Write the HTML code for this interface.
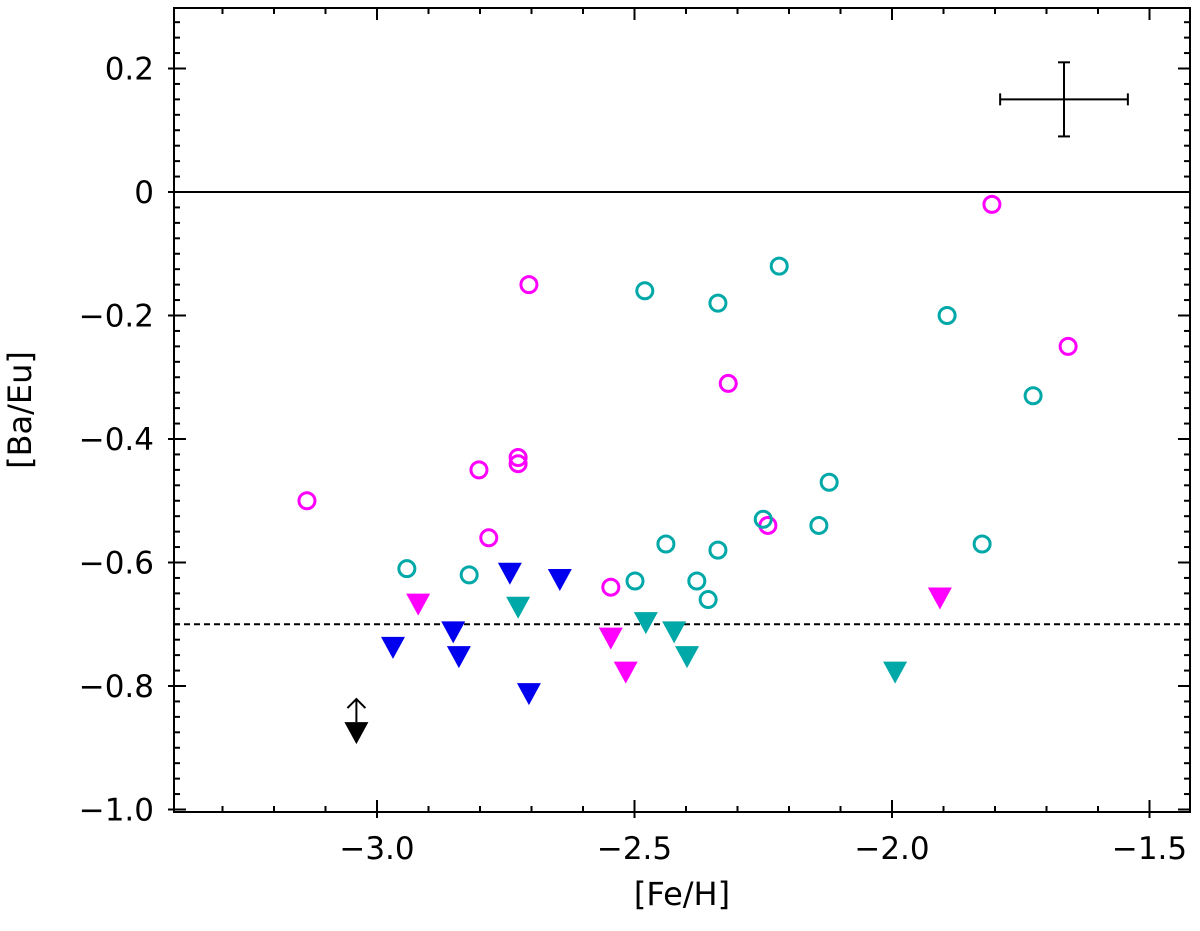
<!DOCTYPE html>
<html><head><meta charset="utf-8"><style>
html,body{margin:0;padding:0;background:#fff}
svg{display:block;font-family:"DejaVu Sans","Liberation Sans",sans-serif}
</style></head><body>
<svg id="chart" width="1200" height="931"></svg>
<script>
const magCircX=[-3.136,-2.705,-2.802,-2.726,-2.726,-2.783,-2.318,-2.546,-2.241,-1.806,-1.658];
const magCircY=[-0.50,-0.15,-0.45,-0.43,-0.44,-0.56,-0.31,-0.64,-0.54,-0.02,-0.25];
const tealCircX=[-2.942,-2.821,-2.48,-2.338,-2.219,-2.499,-2.439,-2.379,-2.357,-2.338,-2.25,-2.142,-2.122,-1.893,-1.825,-1.726];
const tealCircY=[-0.61,-0.62,-0.16,-0.18,-0.12,-0.63,-0.57,-0.63,-0.66,-0.58,-0.53,-0.54,-0.47,-0.20,-0.57,-0.33];
const blueTriX=[-2.969,-2.852,-2.841,-2.742,-2.705,-2.645];
const blueTriY=[-0.735,-0.71,-0.75,-0.615,-0.81,-0.625];
const magTriX=[-2.92,-2.546,-2.517,-1.907];
const magTriY=[-0.665,-0.72,-0.775,-0.655];
const tealTriX=[-2.726,-2.478,-2.423,-2.398,-1.994];
const tealTriY=[-0.67,-0.695,-0.71,-0.75,-0.775];
const blackTriX=[-3.04];
const blackTriY=[-0.873];
const xTicks=[-3.0,-2.5,-2.0,-1.5];
const xTickLabels=["−3.0","−2.5","−2.0","−1.5"];
const yTicks=[0.2,0,-0.2,-0.4,-0.6,-0.8,-1.0];
const yTickLabels=["0.2","0","−0.2","−0.4","−0.6","−0.8","−1.0"];
const errCenter=[-1.666,0.15];
const errHalf=[0.124,0.06];

const L=174,R=1190,T=8,B=812;
const X=v=>377+(v+3)*515;
const Y=v=>192-v*617.5;
const svg=document.getElementById('chart');
const NS='http://www.w3.org/2000/svg';
function mk(tag,attrs,name,parent){const e=document.createElementNS(NS,tag);for(const k in attrs)e.setAttribute(k,attrs[k]);


(parent||svg).appendChild(e);return e;}
mk('rect',{x:L,y:T,width:R-L,height:B-T,fill:'none',stroke:'#000','stroke-width':2},'plot-frame');
for(let v=-3.4;v<=-1.4;v+=0.1){const x=X(v);if(x<L||x>R)continue;
 const major=Math.abs(v*2-Math.round(v*2))<1e-6;
 mk('line',{x1:x,x2:x,y1:B-(major?12:6),y2:B+(major?6:0),stroke:'#000','stroke-width':2},'x-tick');
 mk('line',{x1:x,x2:x,y1:T,y2:T+(major?12:6),stroke:'#000','stroke-width':2},'x-tick-top');}
xTicks.forEach((v,i)=>{const t=mk('text',{x:X(v),y:B+47,'font-size':31,'text-anchor':'middle'},'x-tick-label');t.textContent=xTickLabels[i];});
for(let k=-40;k<=12;k++){const v=k*0.025;const y=Y(v);if(y<T||y>B)continue;const major=k%8==0;
 mk('line',{x1:L-(major?6:0),x2:L+(major?12:6),y1:y,y2:y,stroke:'#000','stroke-width':2},'y-tick');
 mk('line',{x1:R-(major?12:6),x2:R,y1:y,y2:y,stroke:'#000','stroke-width':2},'y-tick-right');}
yTicks.forEach((v,i)=>{const t=mk('text',{x:L-20,y:Y(v)+11,'font-size':31,'text-anchor':'end'},'y-tick-label');t.textContent=yTickLabels[i];});
const xl=mk('text',{x:682,y:905,'font-size':32,'text-anchor':'middle'},'x-axis-title');xl.textContent='[Fe/H]';
const yl=mk('text',{x:0,y:0,'font-size':32,'text-anchor':'middle',transform:'translate(31,410) rotate(-90)'},'y-axis-title');yl.textContent='[Ba/Eu]';
mk('line',{x1:L,x2:R,y1:Y(0),y2:Y(0),stroke:'#000','stroke-width':2},'solar-reference-line');
mk('line',{x1:L,x2:R,y1:Y(-0.7),y2:Y(-0.7),stroke:'#000','stroke-width':2,'stroke-dasharray':'6,4'},'r-process-reference-line');
const ex=X(errCenter[0]),ey=Y(errCenter[1]);
const eg=mk('g',{stroke:'#000','stroke-width':2},'typical-error-bar');
mk('line',{x1:X(errCenter[0]-errHalf[0]),x2:X(errCenter[0]+errHalf[0]),y1:ey,y2:ey},'error-bar-x',eg);
mk('line',{x1:ex,x2:ex,y1:Y(errCenter[1]+errHalf[1]),y2:Y(errCenter[1]-errHalf[1])},'error-bar-y',eg);
[X(errCenter[0]-errHalf[0]),X(errCenter[0]+errHalf[0])].forEach(x=>mk('line',{x1:x,x2:x,y1:ey-6,y2:ey+6},'error-cap',eg));
[Y(errCenter[1]+errHalf[1]),Y(errCenter[1]-errHalf[1])].forEach(y=>mk('line',{x1:ex-6,x2:ex+6,y1:y,y2:y},'error-cap',eg));
function circles(xs,ys,col,name){xs.forEach((v,i)=>mk('circle',{cx:X(v),cy:Y(ys[i]),r:8,fill:'none',stroke:col,'stroke-width':3},name));}
function tris(xs,ys,col,name){xs.forEach((v,i)=>{const x=X(v),y=Y(ys[i]);
 mk('polygon',{points:`${x-12},${y-9} ${x+12},${y-9} ${x},${y+13}`,fill:col},name);});}
circles(magCircX,magCircY,'#ff00ff','magenta-circle');
circles(tealCircX,tealCircY,'#00a8a8','teal-circle');
tris(blueTriX,blueTriY,'#0000ee','blue-triangle');
tris(magTriX,magTriY,'#ff00ff','magenta-triangle');
tris(tealTriX,tealTriY,'#00a8a8','teal-triangle');
tris(blackTriX,blackTriY,'#000','black-triangle');
blackTriX.forEach((v,i)=>{const x=X(v),y=Y(blackTriY[i]);
 const g=mk('g',{stroke:'#000','stroke-width':2,fill:'none'},'upper-limit-arrow');
 mk('line',{x1:x,x2:x,y1:y-9,y2:y-32},'arrow-shaft',g);
 mk('polyline',{points:`${x-9},${y-23} ${x},${y-32} ${x+9},${y-23}`},'arrow-head',g);});
</script>
</body></html>
